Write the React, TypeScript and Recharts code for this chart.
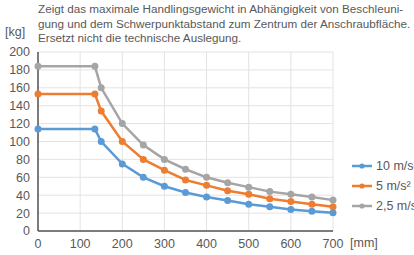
import { CartesianGrid, Line, LineChart, XAxis, YAxis } from "recharts";

const distance = [0, 135, 150, 200, 250, 300, 350, 400, 450, 500, 550, 600, 650, 700];
const accel10 = [114, 114, 100, 75, 60, 50, 43, 38, 34, 30, 27, 24, 22, 20.5];
const accel5 = [153, 153, 134, 100, 80, 68, 57, 51, 45, 41, 36, 33, 30, 27];
const accel25 = [184, 184, 160, 120, 96, 80, 69, 60, 54, 49, 44, 41, 38, 34.5];

const xTicks = [0, 100, 200, 300, 400, 500, 600, 700];
const yTicks = [0, 20, 40, 60, 80, 100, 120, 140, 160, 180, 200];

const titleLines = [
  "Zeigt das maximale Handlingsgewicht in Abhängigkeit von Beschleuni-",
  "gung und dem Schwerpunktabstand zum Zentrum der Anschraubfläche.",
  "Ersetzt nicht die technische Auslegung.",
];

const seriesList = [
  { key: "a10", name: "10 m/s²", color: "#5b9bd5", values: accel10 },
  { key: "a5", name: "5 m/s²", color: "#ed7d31", values: accel5 },
  { key: "a25", name: "2,5 m/s²", color: "#a5a5a5", values: accel25 },
];

const data = distance.map((d, i) => ({
  d,
  a10: accel10[i],
  a5: accel5[i],
  a25: accel25[i],
}));

const font = '"Liberation Sans", Arial, sans-serif';
const text = "#595959";
const grid = "#e3e3e3";
const axis = "#555555";

function LegendBox() {
  return (
    <div style={{ fontFamily: font, fontSize: 12.5, color: text }}>
      {seriesList.map((s) => (
        <div key={s.key} style={{ display: "flex", alignItems: "center", height: 20, whiteSpace: "nowrap" }}>
          <svg width={24} height={10}>
            <line x1={0} x2={20} y1={5} y2={5} stroke={s.color} strokeWidth={2.5} />
            <circle cx={10} cy={5} r={2.6} fill={s.color} />
          </svg>
          <span>{s.name}</span>
        </div>
      ))}
    </div>
  );
}

export default function App() {
  return (
    <div style={{ position: "absolute", left: 0, top: 0, width: 414, height: 255, overflow: "hidden", fontFamily: font, background: "#fff" }}>
      <LineChart width={414} height={255} data={data} margin={{ top: 52, right: 81, bottom: 0, left: 8 }}>
        <CartesianGrid stroke={grid} strokeWidth={1} />
        <XAxis
          dataKey="d"
          type="number"
          domain={[0, 700]}
          ticks={xTicks}
          height={24}
          tickLine={false}
          axisLine={{ stroke: axis, strokeWidth: 1.5 }}
          tick={{ fill: text, fontSize: 12.5, fontFamily: font }}
        />
        <YAxis
          domain={[0, 200]}
          ticks={yTicks}
          width={30}
          interval={0}
          tickLine={false}
          axisLine={{ stroke: axis, strokeWidth: 1.5 }}
          tick={{ fill: text, fontSize: 12.5, fontFamily: font }}
        />
        {seriesList.map((s) => (
          <Line
            key={s.key}
            dataKey={s.key}
            name={s.name}
            type="linear"
            stroke={s.color}
            strokeWidth={2.5}
            dot={{ r: 3.5, fill: s.color, stroke: s.color, strokeWidth: 0 }}
            isAnimationActive={false}
          />
        ))}
      </LineChart>
      <div style={{ position: "absolute", left: 38, top: 2, fontSize: 11.7, lineHeight: "14.5px", color: text, whiteSpace: "nowrap" }}>
        {titleLines.map((t) => (
          <div key={t}>{t}</div>
        ))}
      </div>
      <div style={{ position: "absolute", left: 5, top: 25, fontSize: 12.5, color: text }}>[kg]</div>
      <div style={{ position: "absolute", left: 350, top: 236, fontSize: 12.5, color: text }}>[mm]</div>
      <div style={{ position: "absolute", left: 352, top: 156 }}>
        <LegendBox />
      </div>
    </div>
  );
}
